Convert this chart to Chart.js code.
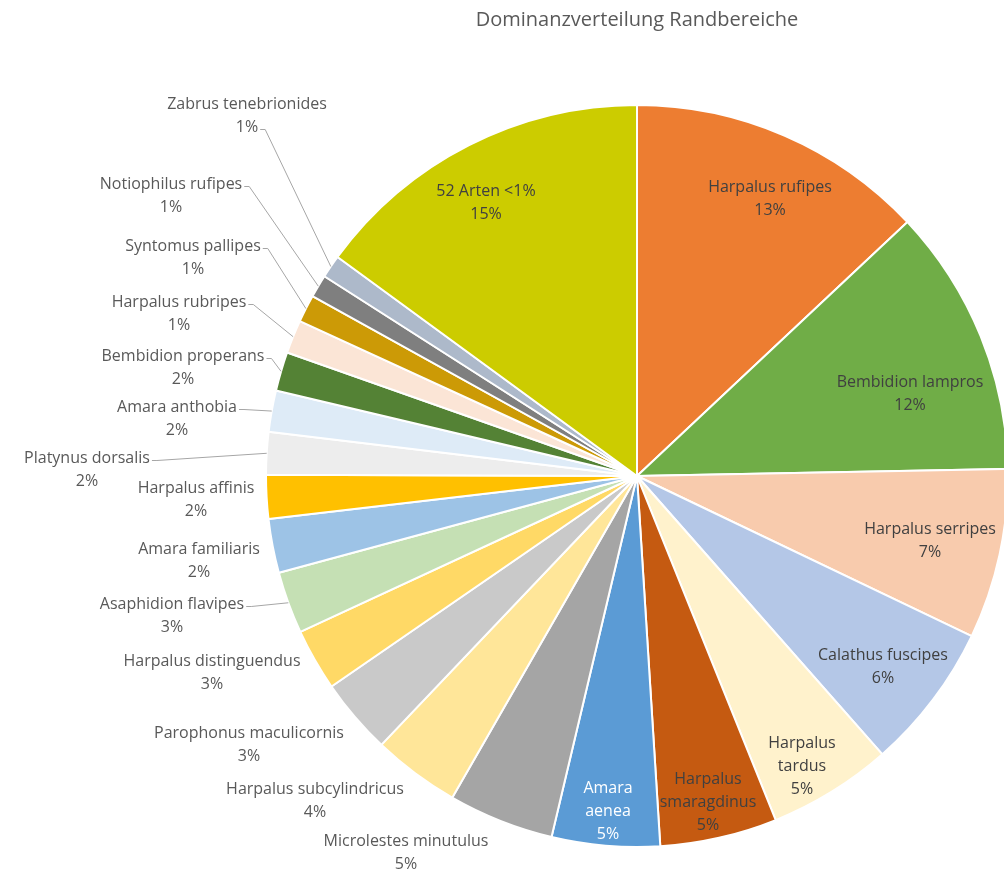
<!DOCTYPE html>
<html lang="de">
<head>
<meta charset="utf-8">
<title>Dominanzverteilung Randbereiche</title>
<script src="https://cdn.jsdelivr.net/npm/chart.js@4/dist/chart.umd.min.js"></script>
<style>
    html, body { margin: 0; padding: 0; background: #fff; overflow: hidden; }
    #wrap { width: 1004px; height: 875px; position: relative; }
</style>
</head>
<body>
<div id="wrap"><canvas id="pieChart"></canvas></div>
<script>
// Species, clockwise from 12 o'clock
const species = [
    'Harpalus rufipes', 'Bembidion lampros', 'Harpalus serripes', 'Calathus fuscipes',
    'Harpalus tardus', 'Harpalus smaragdinus', 'Amara aenea', 'Microlestes minutulus',
    'Harpalus subcylindricus', 'Parophonus maculicornis', 'Harpalus distinguendus',
    'Asaphidion flavipes', 'Amara familiaris', 'Harpalus affinis', 'Platynus dorsalis',
    'Amara anthobia', 'Bembidion properans', 'Harpalus rubripes', 'Syntomus pallipes',
    'Notiophilus rufipes', 'Zabrus tenebrionides', '52 Arten <1%'
];

// Share of all individuals (%)
const shares = [
    13.0, 11.7, 7.4, 6.4,
    5.4, 5.1, 4.7, 4.6,
    3.8, 3.3, 2.7,
    2.7, 2.35, 1.9, 1.85,
    1.8, 1.7, 1.45, 1.2,
    1.0, 1.0, 14.95
];

const sliceColors = [
    '#ED7D31', '#70AD47', '#F8CBAD', '#B4C7E7',
    '#FFF2CC', '#C55A11', '#5B9BD5', '#A5A5A5',
    '#FFE699', '#C9C9C9', '#FFD966',
    '#C5E0B4', '#9DC3E6', '#FFC000', '#EDEDED',
    '#DEEBF7', '#548235', '#FBE5D6', '#CC9A06',
    '#7F7F7F', '#ADB9CA', '#CCCC00'
];

// Label centres relative to the pie centre; inside the rim = label on the slice,
// outside = callout
const labelOffsets = [
    [133, -277], [273, -82], [293, 65], [246, 191],
    [165, 290], [71, 326], [-29, 335], [-231, 377],
    [-322, 325], [-388, 269], [-425, 197],
    [-465, 140], [-438, 85], [-441, 24], [-550, -6],
    [-460, -57], [-454, -108], [-458, -162], [-444, -218],
    [-466, -280], [-390, -360], [-151, -273]
];

const FONT_FAMILY = '"Open Sans", "DejaVu Sans", sans-serif';
const LABEL_FONT = '16px ' + FONT_FAMILY;
const LINE_H = 23;
const PIE_RADIUS = 371;

// Draws category + percentage for each slice, with leader lines for callouts
const sliceLabels = {
    id: 'sliceLabels',
    afterDatasetsDraw(chart) {
        const ctx = chart.ctx;
        const meta = chart.getDatasetMeta(0);
        const total = shares.reduce((a, b) => a + b, 0);

        ctx.save();
        ctx.font = LABEL_FONT;
        ctx.textAlign = 'center';
        ctx.textBaseline = 'middle';

        meta.data.forEach((arc, i) => {
            const p = arc.getProps(['x', 'y', 'startAngle', 'endAngle', 'outerRadius'], true);
            const mid = (p.startAngle + p.endAngle) / 2;
            const span = p.endAngle - p.startAngle;
            const pct = Math.round(shares[i] / total * 100) + '%';
            const off = labelOffsets[i];
            const cx = p.x + off[0];
            const cy = p.y + off[1];

            if (Math.hypot(off[0], off[1]) < p.outerRadius) {
                // narrow slices get the name wrapped word by word
                const lines = span < 0.37 ? species[i].split(' ').concat(pct) : [species[i], pct];
                ctx.fillStyle = species[i] === 'Amara aenea' ? '#ffffff' : '#404040';
                lines.forEach((t, k) => {
                    ctx.fillText(t, cx, cy + (k - (lines.length - 1) / 2) * LINE_H);
                });
                return;
            }

            const lines = [species[i], pct];
            const widths = lines.map(t => ctx.measureText(t).width);
            ctx.fillStyle = '#595959';
            lines.forEach((t, k) => ctx.fillText(t, cx, cy + (k - 0.5) * LINE_H));

            // leader line only when the callout sits away from its slice
            const ex = p.x + Math.cos(mid) * p.outerRadius;
            const ey = p.y + Math.sin(mid) * p.outerRadius;
            const bw = Math.max(...widths) / 2;
            const dx = Math.max(cx - bw - ex, 0, ex - (cx + bw));
            const dy = Math.max(cy - LINE_H - ey, 0, ey - (cy + LINE_H));
            if (Math.hypot(dx, dy) < 16) return;

            let line = 0;
            if (Math.abs(ex - (cx + widths[0] / 2)) < 12) line = 1;
            const ax = cx + widths[line] / 2 + 2;
            const ay = cy + (line - 0.5) * LINE_H + 2;
            ctx.strokeStyle = '#A6A6A6';
            ctx.lineWidth = 1;
            ctx.beginPath();
            ctx.moveTo(ax, ay);
            ctx.lineTo(ax + 5, ay);
            ctx.lineTo(ex, ey);
            ctx.stroke();
        });
        ctx.restore();
    }
};

const ctx = document.getElementById('pieChart').getContext('2d');
new Chart(ctx, {
    type: 'pie',
    data: {
        labels: species,
        datasets: [{
            data: shares,
            backgroundColor: sliceColors,
            borderColor: '#ffffff',
            borderWidth: 2
        }]
    },
    options: {
        responsive: true,
        maintainAspectRatio: false,
        animation: false,
        radius: PIE_RADIUS,
        layout: {
            padding: { left: 270, right: 0, top: 0, bottom: 28 }
        },
        plugins: {
            legend: { display: false },
            tooltip: { enabled: false },
            title: {
                display: true,
                text: 'Dominanzverteilung Randbereiche',
                color: '#595959',
                font: { family: FONT_FAMILY, size: 20, weight: 'normal' },
                padding: { top: 8, bottom: 73 }
            }
        }
    },
    plugins: [sliceLabels]
});
</script>
</body>
</html>
